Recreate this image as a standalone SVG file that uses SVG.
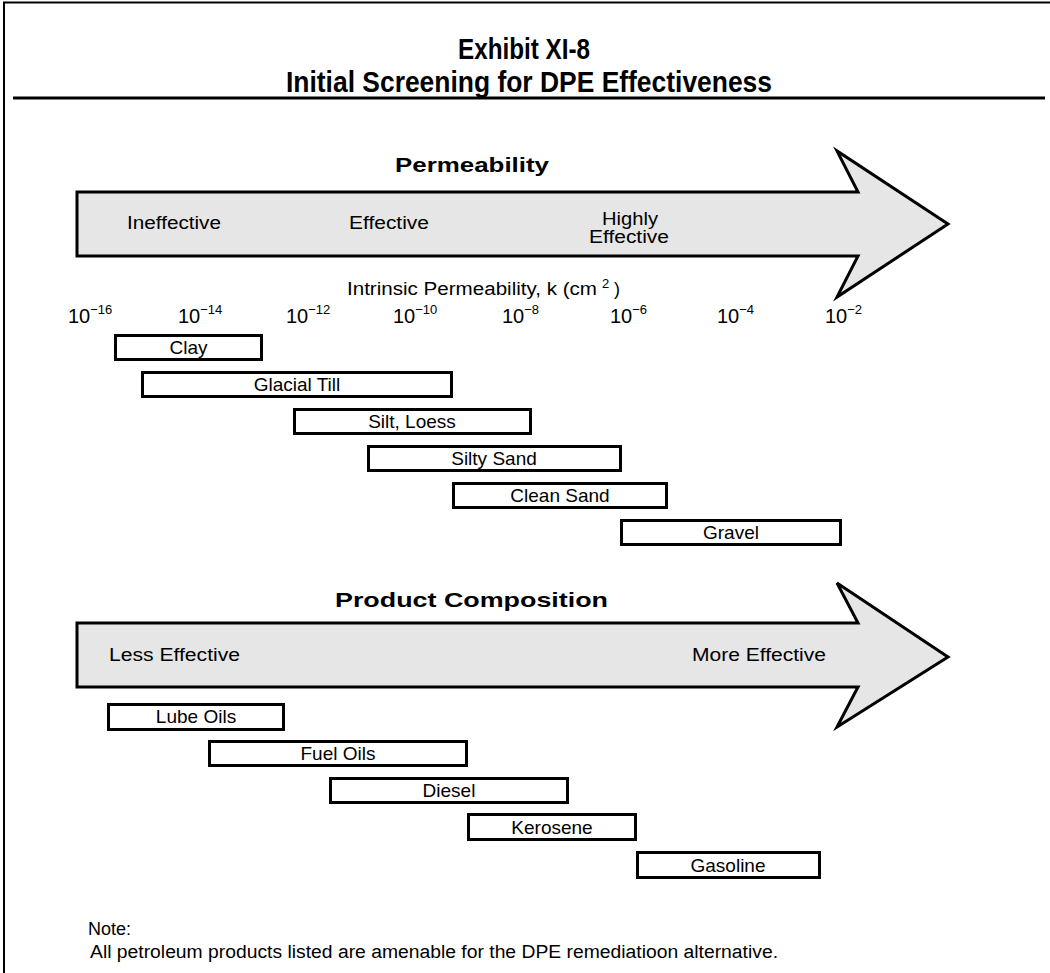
<svg xmlns="http://www.w3.org/2000/svg" width="1050" height="973" viewBox="0 0 1050 973">
<style>
text{font-family:"Liberation Sans",Arial,sans-serif;fill:#000}
.title{font-size:29px;font-weight:bold;text-anchor:middle}
.head{font-size:21px;font-weight:bold}
.lbl{font-size:18px}
.box rect{fill:#fff;stroke:#000;stroke-width:3}
.box text{font-size:19px;text-anchor:middle}
.arrow{fill:#e6e6e6;stroke:#000;stroke-width:3;stroke-linejoin:miter}
.tick{font-size:20px}
.sup{font-size:13px}
</style>
<rect x="0" y="0" width="1050" height="973" fill="#fff"/>
<g id="frame" stroke="#000" fill="none">
<line x1="4" y1="2" x2="4" y2="973" stroke-width="2"/>
<line x1="3" y1="2.5" x2="1050" y2="2.5" stroke-width="2"/>
<line x1="13" y1="98" x2="1045" y2="98" stroke-width="3"/>
</g>
<g id="title">
<text class="title" x="524" y="59" textLength="132" lengthAdjust="spacingAndGlyphs">Exhibit XI-8</text>
<text class="title" x="529" y="92" textLength="486" lengthAdjust="spacingAndGlyphs">Initial Screening for DPE Effectiveness</text>
</g>
<g id="permeability-arrow">
<text class="head" x="395" y="172" textLength="154" lengthAdjust="spacingAndGlyphs">Permeability</text>
<polygon class="arrow" points="77,192 858,192 837,151 948,224 837,297 858,256 77,256"/>
<text class="lbl" x="127" y="229" textLength="94" lengthAdjust="spacingAndGlyphs">Ineffective</text>
<text class="lbl" x="349" y="229" textLength="80" lengthAdjust="spacingAndGlyphs">Effective</text>
<text class="lbl" x="602" y="225" textLength="56" lengthAdjust="spacingAndGlyphs">Highly</text>
<text class="lbl" x="589" y="243" textLength="80" lengthAdjust="spacingAndGlyphs">Effective</text>
</g>
<g id="axis">
<text class="lbl" x="347" y="295" font-size="17" textLength="250" lengthAdjust="spacingAndGlyphs">Intrinsic Permeability, k (cm</text>
<text class="sup" x="602" y="288" font-size="12">2</text>
<text class="lbl" x="614" y="295" font-size="17">)</text>
<text class="tick" x="68" y="323">10<tspan class="sup" dy="-9">−16</tspan></text>
<text class="tick" x="178" y="323">10<tspan class="sup" dy="-9">−14</tspan></text>
<text class="tick" x="286" y="323">10<tspan class="sup" dy="-9">−12</tspan></text>
<text class="tick" x="393" y="323">10<tspan class="sup" dy="-9">−10</tspan></text>
<text class="tick" x="502" y="323">10<tspan class="sup" dy="-9">−8</tspan></text>
<text class="tick" x="610" y="323">10<tspan class="sup" dy="-9">−6</tspan></text>
<text class="tick" x="717" y="323">10<tspan class="sup" dy="-9">−4</tspan></text>
<text class="tick" x="825" y="323">10<tspan class="sup" dy="-9">−2</tspan></text>
</g>
<g id="clay" class="box"><rect x="115.5" y="335.5" width="146" height="24"/><text x="188.5" y="354">Clay</text></g>
<g id="glacial-till" class="box"><rect x="142.5" y="372.5" width="309" height="24"/><text x="297" y="391">Glacial Till</text></g>
<g id="silt-loess" class="box"><rect x="294.5" y="409.5" width="236" height="24"/><text x="412" y="428">Silt, Loess</text></g>
<g id="silty-sand" class="box"><rect x="368.5" y="446.5" width="252" height="24"/><text x="494" y="465">Silty Sand</text></g>
<g id="clean-sand" class="box"><rect x="453.5" y="483.5" width="213" height="24"/><text x="560" y="502">Clean Sand</text></g>
<g id="gravel" class="box"><rect x="621.5" y="520.5" width="219" height="24"/><text x="731" y="539">Gravel</text></g>
<g id="product-arrow">
<text class="head" x="335" y="607" textLength="273" lengthAdjust="spacingAndGlyphs">Product Composition</text>
<polygon class="arrow" points="77,623 858,623 837,583 948,657 837,727 858,687 77,687"/>
<text class="lbl" x="109" y="661" textLength="131" lengthAdjust="spacingAndGlyphs">Less Effective</text>
<text class="lbl" x="692" y="661" textLength="134" lengthAdjust="spacingAndGlyphs">More Effective</text>
</g>
<g id="lube-oils" class="box"><rect x="108.5" y="704.5" width="175" height="25"/><text x="196" y="723">Lube Oils</text></g>
<g id="fuel-oils" class="box"><rect x="209.5" y="741.5" width="257" height="24"/><text x="338" y="760">Fuel Oils</text></g>
<g id="diesel" class="box"><rect x="330.5" y="778.5" width="237" height="24"/><text x="449" y="797">Diesel</text></g>
<g id="kerosene" class="box"><rect x="468.5" y="814.5" width="167" height="25"/><text x="552" y="834">Kerosene</text></g>
<g id="gasoline" class="box"><rect x="637.5" y="852.5" width="182" height="25"/><text x="728" y="872">Gasoline</text></g>
<g id="connectors"></g>
<g id="note">
<text class="lbl" x="88" y="935" font-size="17">Note:</text>
<text class="lbl" x="90" y="958" font-size="17" textLength="688" lengthAdjust="spacingAndGlyphs">All petroleum products listed are amenable for the DPE remediatioon alternative.</text>
</g>
</svg>
